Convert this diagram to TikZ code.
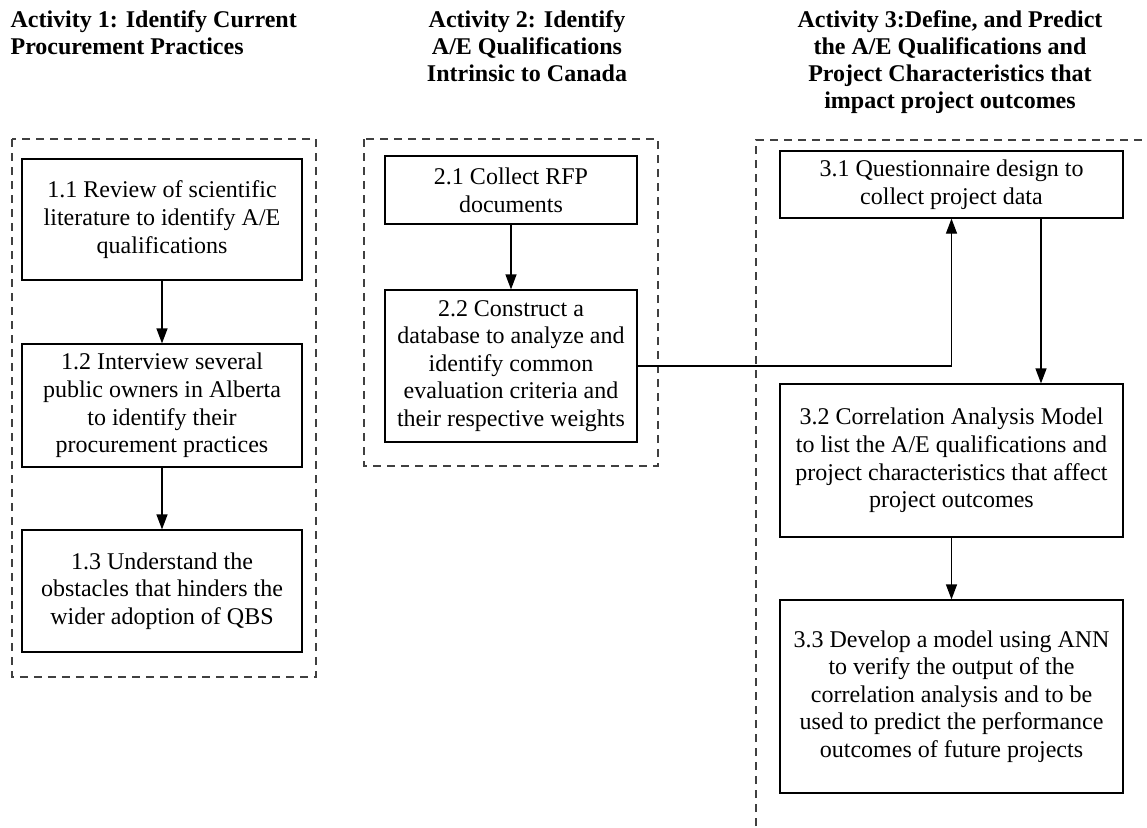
\documentclass[tikz,border=0pt]{standalone}
\usepackage{fontspec}
\setmainfont{Liberation Serif}
\usetikzlibrary{arrows.meta}

\begin{document}
\begin{tikzpicture}[
    x=0.5pt, y=-0.5pt,
    line width=0.6pt,
    >={Triangle[length=7.5pt, width=5.5pt]},
    task/.style={draw, align=center, inner sep=0pt, font=\fontsize{12}{13.8}\selectfont},
    col one/.style={task, minimum width=140pt},
    col two/.style={task, minimum width=126pt},
    col three/.style={task, minimum width=171.5pt},
    title/.style={align=center, inner sep=0pt, anchor=north, font=\fontsize{12}{13.5}\selectfont\bfseries},
    group/.style={draw=black!75, dash pattern=on 4pt off 3pt}
]
    \useasboundingbox (0,0) rectangle (1147,827);
    \clip (0,0) rectangle (1147,827);

    % headings
    \node[title, align=left, anchor=north west] (t1) at (10,10) {Activity 1: Identify Current\\Procurement Practices};
    \node[title] (t2) at (527,10) {Activity 2: Identify\\A/E Qualifications\\Intrinsic to Canada};
    \node[title] (t3) at (950,10) {Activity 3:Define, and Predict\\the A/E Qualifications and\\Project Characteristics that\\impact project outcomes};

    % dashed groups
    \draw[group] (12,139) rectangle (316,677);
    \draw[group] (364,139) rectangle (658,466);
    \draw[group] (756,840) -- (756,140) -- (1160,140);

    % activity 1
    \node[col one, minimum height=60.5pt] (n11) at (162,219.5) {1.1 Review of scientific\\literature to identify A/E\\qualifications};
    \node[col one, minimum height=61.5pt] (n12) at (162,405.5) {1.2 Interview several\\public owners in Alberta\\to identify their\\procurement practices};
    \node[col one, minimum height=61pt] (n13) at (162,591) {1.3 Understand the\\obstacles that hinders the\\wider adoption of QBS};

    % activity 2
    \node[col two, minimum height=34pt] (n21) at (511,190) {2.1 Collect RFP\\documents};
    \node[col two, minimum height=76pt] (n22) at (511,366) {2.2 Construct a\\database to analyze and\\identify common\\evaluation criteria and\\their respective weights};

    % activity 3
    \node[col three, minimum height=33.5pt] (n31) at (951.5,184.5) {3.1 Questionnaire design to\\collect project data};
    \node[col three, minimum height=76.5pt] (n32) at (951.5,460.5) {3.2 Correlation Analysis Model\\to list the A/E qualifications and\\project characteristics that affect\\project outcomes};
    \node[col three, minimum height=96.5pt] (n33) at (951.5,696.5) {3.3 Develop a model using ANN\\to verify the output of the\\correlation analysis and to be\\used to predict the performance\\outcomes of future projects};

    \draw[->] (n11) -- (n12);
    \draw[->] (n12) -- (n13);
    \draw[->] (n21) -- (n22);
    \draw[->] (n22.east) -| (n31.south);
    \draw[->] ([xshift=44.75pt]n31.south) -- ([xshift=44.75pt]n32.north);
    \draw[->] (n32) -- (n33);
\end{tikzpicture}
\end{document}
